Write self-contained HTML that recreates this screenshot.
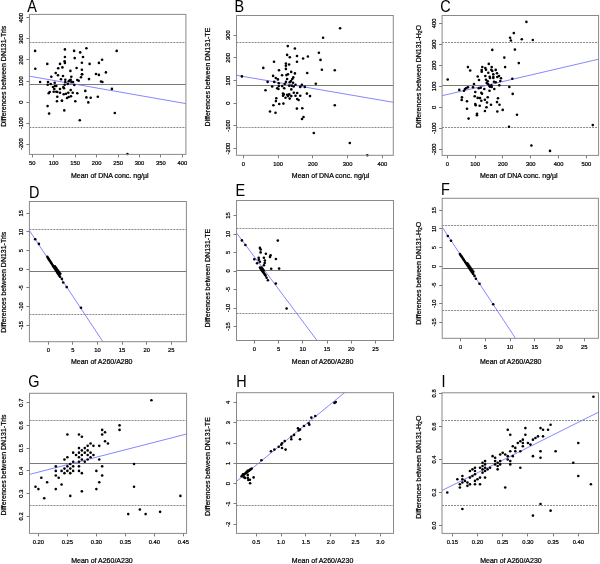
<!DOCTYPE html>
<html><head><meta charset="utf-8"><style>
html,body{margin:0;padding:0;background:#fff;}
svg{display:block;font-family:"Liberation Sans", sans-serif;will-change:transform;}
text{stroke:#000;stroke-width:0.22px;}
</style></head><body>
<svg width="600" height="564" viewBox="0 0 600 564">
<rect width="600" height="564" fill="#fff"/>
<text transform="translate(27.2,11.8) scale(0.9,1)" font-size="16" fill="#000" style="stroke-width:0.05px">A</text>
<line x1="29.4" y1="42.5" x2="185.9" y2="42.5" stroke="#8a8a8a" stroke-width="1" stroke-dasharray="2,1"/>
<line x1="29.4" y1="127.5" x2="185.9" y2="127.5" stroke="#8a8a8a" stroke-width="1" stroke-dasharray="2,1"/>
<line x1="29.4" y1="84.5" x2="185.9" y2="84.5" stroke="#787878" stroke-width="1"/>
<line x1="29.4" y1="76.2" x2="185.9" y2="103.6" stroke="#7878ff" stroke-width="0.9"/>
<circle cx="35.1" cy="50.9" r="1.3"/>
<circle cx="35.3" cy="68.7" r="1.3"/>
<circle cx="64.9" cy="49.4" r="1.3"/>
<circle cx="74.1" cy="50.9" r="1.3"/>
<circle cx="86.4" cy="48.3" r="1.3"/>
<circle cx="80.2" cy="52.4" r="1.3"/>
<circle cx="64.9" cy="57" r="1.3"/>
<circle cx="74.7" cy="58.1" r="1.3"/>
<circle cx="83" cy="57" r="1.3"/>
<circle cx="64.6" cy="61.3" r="1.3"/>
<circle cx="64.9" cy="62.9" r="1.3"/>
<circle cx="47.3" cy="63.9" r="1.3"/>
<circle cx="60" cy="63.9" r="1.3"/>
<circle cx="81.9" cy="62.7" r="1.3"/>
<circle cx="89.6" cy="63.9" r="1.3"/>
<circle cx="58.2" cy="68.2" r="1.3"/>
<circle cx="62.4" cy="67.4" r="1.3"/>
<circle cx="76.6" cy="68" r="1.3"/>
<circle cx="81.9" cy="69.8" r="1.3"/>
<circle cx="70.4" cy="70.9" r="1.3"/>
<circle cx="82.1" cy="74.3" r="1.3"/>
<circle cx="89" cy="79.1" r="1.3"/>
<circle cx="40.1" cy="82" r="1.3"/>
<circle cx="85.3" cy="90.9" r="1.3"/>
<circle cx="86.4" cy="97.4" r="1.3"/>
<circle cx="55.7" cy="73" r="1.3"/>
<circle cx="58" cy="75.3" r="1.3"/>
<circle cx="63" cy="76" r="1.3"/>
<circle cx="51.3" cy="76.8" r="1.3"/>
<circle cx="71.3" cy="76.8" r="1.3"/>
<circle cx="82" cy="74.3" r="1.3"/>
<circle cx="81" cy="77.3" r="1.3"/>
<circle cx="61" cy="79.2" r="1.3"/>
<circle cx="65.3" cy="79.7" r="1.3"/>
<circle cx="69.7" cy="80.3" r="1.3"/>
<circle cx="70.7" cy="79.7" r="1.3"/>
<circle cx="77.3" cy="80" r="1.3"/>
<circle cx="78.7" cy="80.7" r="1.3"/>
<circle cx="48" cy="82" r="1.3"/>
<circle cx="54.7" cy="82.7" r="1.3"/>
<circle cx="65.3" cy="82" r="1.3"/>
<circle cx="68.7" cy="81.3" r="1.3"/>
<circle cx="71.3" cy="81.7" r="1.3"/>
<circle cx="73" cy="82" r="1.3"/>
<circle cx="47.7" cy="84.7" r="1.3"/>
<circle cx="50.7" cy="84" r="1.3"/>
<circle cx="67.7" cy="84" r="1.3"/>
<circle cx="74.3" cy="85" r="1.3"/>
<circle cx="64.7" cy="84.7" r="1.3"/>
<circle cx="53" cy="87" r="1.3"/>
<circle cx="55" cy="86" r="1.3"/>
<circle cx="56.3" cy="86" r="1.3"/>
<circle cx="63.3" cy="87" r="1.3"/>
<circle cx="64" cy="88.3" r="1.3"/>
<circle cx="60" cy="89" r="1.3"/>
<circle cx="70.7" cy="90" r="1.3"/>
<circle cx="54.3" cy="89" r="1.3"/>
<circle cx="53.7" cy="91.7" r="1.3"/>
<circle cx="49.7" cy="92" r="1.3"/>
<circle cx="48.7" cy="93.3" r="1.3"/>
<circle cx="56.3" cy="91.7" r="1.3"/>
<circle cx="57.3" cy="92" r="1.3"/>
<circle cx="60" cy="92.7" r="1.3"/>
<circle cx="63.7" cy="94.3" r="1.3"/>
<circle cx="66" cy="93.7" r="1.3"/>
<circle cx="68.3" cy="92.7" r="1.3"/>
<circle cx="72.7" cy="92.7" r="1.3"/>
<circle cx="77.3" cy="93.3" r="1.3"/>
<circle cx="57.3" cy="96.7" r="1.3"/>
<circle cx="67" cy="98" r="1.3"/>
<circle cx="68.7" cy="97" r="1.3"/>
<circle cx="71" cy="96.3" r="1.3"/>
<circle cx="57" cy="101.3" r="1.3"/>
<circle cx="62" cy="100.7" r="1.3"/>
<circle cx="75.3" cy="101.3" r="1.3"/>
<circle cx="116.7" cy="50.9" r="1.3"/>
<circle cx="102.1" cy="59.7" r="1.3"/>
<circle cx="98.9" cy="62.9" r="1.3"/>
<circle cx="105.9" cy="72.4" r="1.3"/>
<circle cx="96" cy="74" r="1.3"/>
<circle cx="98.9" cy="74.9" r="1.3"/>
<circle cx="101" cy="81.5" r="1.3"/>
<circle cx="102.4" cy="82" r="1.3"/>
<circle cx="111.9" cy="88.9" r="1.3"/>
<circle cx="90.7" cy="97.8" r="1.3"/>
<circle cx="97.8" cy="96.7" r="1.3"/>
<circle cx="61.9" cy="100.8" r="1.3"/>
<circle cx="88.3" cy="102.4" r="1.3"/>
<circle cx="47.6" cy="106.1" r="1.3"/>
<circle cx="49.1" cy="113.6" r="1.3"/>
<circle cx="64.3" cy="110.4" r="1.3"/>
<circle cx="79.8" cy="120.3" r="1.3"/>
<circle cx="114.8" cy="113" r="1.3"/>
<circle cx="127.4" cy="154" r="1.3"/>
<rect x="29.4" y="14.4" width="156.5" height="140.0" fill="none" stroke="#8a8a8a" stroke-width="1"/>
<line x1="32.50" y1="154.4" x2="32.50" y2="157.4" stroke="#7c7c7c" stroke-width="1"/>
<text x="32.20" y="165.0" font-size="5.8" text-anchor="middle" fill="#000">50</text>
<line x1="53.50" y1="154.4" x2="53.50" y2="157.4" stroke="#7c7c7c" stroke-width="1"/>
<text x="53.66" y="165.0" font-size="5.8" text-anchor="middle" fill="#000">100</text>
<line x1="75.50" y1="154.4" x2="75.50" y2="157.4" stroke="#7c7c7c" stroke-width="1"/>
<text x="75.11" y="165.0" font-size="5.8" text-anchor="middle" fill="#000">150</text>
<line x1="96.50" y1="154.4" x2="96.50" y2="157.4" stroke="#7c7c7c" stroke-width="1"/>
<text x="96.57" y="165.0" font-size="5.8" text-anchor="middle" fill="#000">200</text>
<line x1="118.50" y1="154.4" x2="118.50" y2="157.4" stroke="#7c7c7c" stroke-width="1"/>
<text x="118.03" y="165.0" font-size="5.8" text-anchor="middle" fill="#000">250</text>
<line x1="139.50" y1="154.4" x2="139.50" y2="157.4" stroke="#7c7c7c" stroke-width="1"/>
<text x="139.49" y="165.0" font-size="5.8" text-anchor="middle" fill="#000">300</text>
<line x1="160.50" y1="154.4" x2="160.50" y2="157.4" stroke="#7c7c7c" stroke-width="1"/>
<text x="160.94" y="165.0" font-size="5.8" text-anchor="middle" fill="#000">350</text>
<line x1="182.50" y1="154.4" x2="182.50" y2="157.4" stroke="#7c7c7c" stroke-width="1"/>
<text x="182.40" y="165.0" font-size="5.8" text-anchor="middle" fill="#000">400</text>
<line x1="26.4" y1="144.50" x2="29.4" y2="144.50" stroke="#7c7c7c" stroke-width="1"/>
<text transform="translate(22.90,144.20) rotate(-90)" font-size="5.8" text-anchor="middle" fill="#000">-200</text>
<line x1="26.4" y1="123.50" x2="29.4" y2="123.50" stroke="#7c7c7c" stroke-width="1"/>
<text transform="translate(22.90,123.15) rotate(-90)" font-size="5.8" text-anchor="middle" fill="#000">-100</text>
<line x1="26.4" y1="102.50" x2="29.4" y2="102.50" stroke="#7c7c7c" stroke-width="1"/>
<text transform="translate(22.90,102.10) rotate(-90)" font-size="5.8" text-anchor="middle" fill="#000">0</text>
<line x1="26.4" y1="81.50" x2="29.4" y2="81.50" stroke="#7c7c7c" stroke-width="1"/>
<text transform="translate(22.90,81.05) rotate(-90)" font-size="5.8" text-anchor="middle" fill="#000">100</text>
<line x1="26.4" y1="59.50" x2="29.4" y2="59.50" stroke="#7c7c7c" stroke-width="1"/>
<text transform="translate(22.90,60.00) rotate(-90)" font-size="5.8" text-anchor="middle" fill="#000">200</text>
<line x1="26.4" y1="38.50" x2="29.4" y2="38.50" stroke="#7c7c7c" stroke-width="1"/>
<text transform="translate(22.90,38.95) rotate(-90)" font-size="5.8" text-anchor="middle" fill="#000">300</text>
<line x1="26.4" y1="17.50" x2="29.4" y2="17.50" stroke="#7c7c7c" stroke-width="1"/>
<text transform="translate(22.90,17.90) rotate(-90)" font-size="5.8" text-anchor="middle" fill="#000">400</text>
<text x="71" y="177.7" font-size="7" fill="#000">Mean of DNA conc. ng/µl</text>
<text transform="translate(5.70,126.80) rotate(-90)" font-size="7" fill="#000">Differences between DN131-Tris</text>
<text transform="translate(234.6,11.9) scale(0.9,1)" font-size="16" fill="#000" style="stroke-width:0.05px">B</text>
<line x1="236.5" y1="42.5" x2="393.3" y2="42.5" stroke="#8a8a8a" stroke-width="1" stroke-dasharray="2,1"/>
<line x1="236.5" y1="127.5" x2="393.3" y2="127.5" stroke="#8a8a8a" stroke-width="1" stroke-dasharray="2,1"/>
<line x1="236.5" y1="85.5" x2="393.3" y2="85.5" stroke="#787878" stroke-width="1"/>
<line x1="236.5" y1="75.3" x2="393.3" y2="102.3" stroke="#7878ff" stroke-width="0.9"/>
<circle cx="287.8" cy="46.1" r="1.3"/>
<circle cx="294.9" cy="48.5" r="1.3"/>
<circle cx="287.1" cy="54.9" r="1.3"/>
<circle cx="289.8" cy="57.2" r="1.3"/>
<circle cx="297" cy="56" r="1.3"/>
<circle cx="297" cy="61.7" r="1.3"/>
<circle cx="274" cy="61.7" r="1.3"/>
<circle cx="285.9" cy="63.6" r="1.3"/>
<circle cx="285.9" cy="65.7" r="1.3"/>
<circle cx="289.1" cy="64.5" r="1.3"/>
<circle cx="263.3" cy="67.9" r="1.3"/>
<circle cx="279" cy="70.2" r="1.3"/>
<circle cx="285.9" cy="68.9" r="1.3"/>
<circle cx="291.2" cy="71.9" r="1.3"/>
<circle cx="294.9" cy="73.4" r="1.3"/>
<circle cx="241.9" cy="76.4" r="1.3"/>
<circle cx="273.1" cy="75.9" r="1.3"/>
<circle cx="282.1" cy="75.3" r="1.3"/>
<circle cx="286.4" cy="75.1" r="1.3"/>
<circle cx="288" cy="74.3" r="1.3"/>
<circle cx="275.8" cy="78" r="1.3"/>
<circle cx="277.9" cy="79.4" r="1.3"/>
<circle cx="287.1" cy="79" r="1.3"/>
<circle cx="293.3" cy="77.4" r="1.3"/>
<circle cx="292.3" cy="79" r="1.3"/>
<circle cx="340.1" cy="28.3" r="1.3"/>
<circle cx="323.1" cy="37.8" r="1.3"/>
<circle cx="318.9" cy="52.8" r="1.3"/>
<circle cx="307.9" cy="56.5" r="1.3"/>
<circle cx="303.1" cy="58.5" r="1.3"/>
<circle cx="320.5" cy="59.9" r="1.3"/>
<circle cx="321.9" cy="69.7" r="1.3"/>
<circle cx="334.8" cy="70.2" r="1.3"/>
<circle cx="307.2" cy="73" r="1.3"/>
<circle cx="267.6" cy="81.9" r="1.3"/>
<circle cx="274.25" cy="81.9" r="1.3"/>
<circle cx="278.8" cy="83.2" r="1.3"/>
<circle cx="285.9" cy="81.9" r="1.3"/>
<circle cx="289.7" cy="82.3" r="1.3"/>
<circle cx="290.9" cy="81.1" r="1.3"/>
<circle cx="293" cy="82.75" r="1.3"/>
<circle cx="284.7" cy="84" r="1.3"/>
<circle cx="295.5" cy="84.8" r="1.3"/>
<circle cx="272.2" cy="86.5" r="1.3"/>
<circle cx="278.8" cy="86.1" r="1.3"/>
<circle cx="282.2" cy="86.1" r="1.3"/>
<circle cx="289.25" cy="85.7" r="1.3"/>
<circle cx="291.75" cy="85.7" r="1.3"/>
<circle cx="293.7" cy="86.5" r="1.3"/>
<circle cx="277.2" cy="88.2" r="1.3"/>
<circle cx="278.4" cy="89" r="1.3"/>
<circle cx="284.25" cy="88.2" r="1.3"/>
<circle cx="291.3" cy="89.4" r="1.3"/>
<circle cx="265.5" cy="90.25" r="1.3"/>
<circle cx="283" cy="93.6" r="1.3"/>
<circle cx="283.8" cy="94.4" r="1.3"/>
<circle cx="287.2" cy="94.8" r="1.3"/>
<circle cx="289.25" cy="94.4" r="1.3"/>
<circle cx="293.8" cy="92.75" r="1.3"/>
<circle cx="297.2" cy="93" r="1.3"/>
<circle cx="283" cy="95.7" r="1.3"/>
<circle cx="288" cy="96.1" r="1.3"/>
<circle cx="291.3" cy="96.1" r="1.3"/>
<circle cx="295.5" cy="95.7" r="1.3"/>
<circle cx="285.5" cy="97.75" r="1.3"/>
<circle cx="289.7" cy="98.6" r="1.3"/>
<circle cx="297.2" cy="99" r="1.3"/>
<circle cx="276.3" cy="98.2" r="1.3"/>
<circle cx="275.9" cy="101.1" r="1.3"/>
<circle cx="273.4" cy="105.25" r="1.3"/>
<circle cx="279.25" cy="104" r="1.3"/>
<circle cx="283.4" cy="103.6" r="1.3"/>
<circle cx="301.9" cy="84.8" r="1.3"/>
<circle cx="300.25" cy="86.9" r="1.3"/>
<circle cx="304.8" cy="86.9" r="1.3"/>
<circle cx="315.8" cy="83.8" r="1.3"/>
<circle cx="300.25" cy="95.8" r="1.3"/>
<circle cx="306.9" cy="93.6" r="1.3"/>
<circle cx="310" cy="96.1" r="1.3"/>
<circle cx="298.6" cy="100" r="1.3"/>
<circle cx="334.8" cy="105.25" r="1.3"/>
<circle cx="302.3" cy="108.2" r="1.3"/>
<circle cx="296.9" cy="108.6" r="1.3"/>
<circle cx="270" cy="111.5" r="1.3"/>
<circle cx="275.5" cy="112.7" r="1.3"/>
<circle cx="302" cy="119" r="1.3"/>
<circle cx="303.5" cy="117" r="1.3"/>
<circle cx="313.8" cy="133" r="1.3"/>
<circle cx="349.8" cy="143" r="1.3"/>
<circle cx="367.3" cy="155.2" r="1.3"/>
<rect x="236.5" y="15.5" width="156.8" height="139.8" fill="none" stroke="#8a8a8a" stroke-width="1"/>
<line x1="243.50" y1="155.3" x2="243.50" y2="158.3" stroke="#7c7c7c" stroke-width="1"/>
<text x="243.40" y="165.9" font-size="5.8" text-anchor="middle" fill="#000">0</text>
<line x1="278.50" y1="155.3" x2="278.50" y2="158.3" stroke="#7c7c7c" stroke-width="1"/>
<text x="278.15" y="165.9" font-size="5.8" text-anchor="middle" fill="#000">100</text>
<line x1="312.50" y1="155.3" x2="312.50" y2="158.3" stroke="#7c7c7c" stroke-width="1"/>
<text x="312.90" y="165.9" font-size="5.8" text-anchor="middle" fill="#000">200</text>
<line x1="347.50" y1="155.3" x2="347.50" y2="158.3" stroke="#7c7c7c" stroke-width="1"/>
<text x="347.65" y="165.9" font-size="5.8" text-anchor="middle" fill="#000">300</text>
<line x1="382.50" y1="155.3" x2="382.50" y2="158.3" stroke="#7c7c7c" stroke-width="1"/>
<text x="382.40" y="165.9" font-size="5.8" text-anchor="middle" fill="#000">400</text>
<line x1="233.5" y1="148.50" x2="236.5" y2="148.50" stroke="#7c7c7c" stroke-width="1"/>
<text transform="translate(230.00,148.60) rotate(-90)" font-size="5.8" text-anchor="middle" fill="#000">-200</text>
<line x1="233.5" y1="125.50" x2="236.5" y2="125.50" stroke="#7c7c7c" stroke-width="1"/>
<text transform="translate(230.00,125.92) rotate(-90)" font-size="5.8" text-anchor="middle" fill="#000">-100</text>
<line x1="233.5" y1="103.50" x2="236.5" y2="103.50" stroke="#7c7c7c" stroke-width="1"/>
<text transform="translate(230.00,103.24) rotate(-90)" font-size="5.8" text-anchor="middle" fill="#000">0</text>
<line x1="233.5" y1="80.50" x2="236.5" y2="80.50" stroke="#7c7c7c" stroke-width="1"/>
<text transform="translate(230.00,80.56) rotate(-90)" font-size="5.8" text-anchor="middle" fill="#000">100</text>
<line x1="233.5" y1="57.50" x2="236.5" y2="57.50" stroke="#7c7c7c" stroke-width="1"/>
<text transform="translate(230.00,57.88) rotate(-90)" font-size="5.8" text-anchor="middle" fill="#000">200</text>
<line x1="233.5" y1="35.50" x2="236.5" y2="35.50" stroke="#7c7c7c" stroke-width="1"/>
<text transform="translate(230.00,35.20) rotate(-90)" font-size="5.8" text-anchor="middle" fill="#000">300</text>
<text x="291.8" y="177.7" font-size="7" fill="#000">Mean of DNA conc. ng/µl</text>
<text transform="translate(210.00,126.40) rotate(-90)" font-size="7" fill="#000">Differences between DN131-TE</text>
<text transform="translate(440.2,12.0) scale(0.9,1)" font-size="16" fill="#000" style="stroke-width:0.05px">C</text>
<line x1="442.1" y1="42.5" x2="598.6" y2="42.5" stroke="#8a8a8a" stroke-width="1" stroke-dasharray="2,1"/>
<line x1="442.1" y1="127.5" x2="598.6" y2="127.5" stroke="#8a8a8a" stroke-width="1" stroke-dasharray="2,1"/>
<line x1="442.1" y1="85.5" x2="598.6" y2="85.5" stroke="#787878" stroke-width="1"/>
<line x1="442.1" y1="95.7" x2="598.6" y2="59.2" stroke="#7878ff" stroke-width="0.9"/>
<circle cx="492.3" cy="49.9" r="1.3"/>
<circle cx="467.9" cy="67.1" r="1.3"/>
<circle cx="470.2" cy="70.5" r="1.3"/>
<circle cx="488.8" cy="63.9" r="1.3"/>
<circle cx="526.4" cy="21.9" r="1.3"/>
<circle cx="513.8" cy="33.1" r="1.3"/>
<circle cx="510.1" cy="37.7" r="1.3"/>
<circle cx="510.9" cy="40.5" r="1.3"/>
<circle cx="521.8" cy="39.3" r="1.3"/>
<circle cx="532.8" cy="40" r="1.3"/>
<circle cx="514.9" cy="49.6" r="1.3"/>
<circle cx="504.3" cy="57.6" r="1.3"/>
<circle cx="518.8" cy="63.1" r="1.3"/>
<circle cx="505.1" cy="67.1" r="1.3"/>
<circle cx="482.3" cy="67" r="1.3"/>
<circle cx="481.7" cy="70" r="1.3"/>
<circle cx="481.7" cy="71.7" r="1.3"/>
<circle cx="485.3" cy="68" r="1.3"/>
<circle cx="486" cy="69.7" r="1.3"/>
<circle cx="491.7" cy="67" r="1.3"/>
<circle cx="491.3" cy="69.7" r="1.3"/>
<circle cx="492.3" cy="71" r="1.3"/>
<circle cx="495.7" cy="69.9" r="1.3"/>
<circle cx="488.3" cy="72.7" r="1.3"/>
<circle cx="497" cy="73.3" r="1.3"/>
<circle cx="493.3" cy="74.3" r="1.3"/>
<circle cx="485.3" cy="76" r="1.3"/>
<circle cx="489.7" cy="76.7" r="1.3"/>
<circle cx="490" cy="78" r="1.3"/>
<circle cx="493.3" cy="76.7" r="1.3"/>
<circle cx="493.3" cy="78" r="1.3"/>
<circle cx="499" cy="76" r="1.3"/>
<circle cx="497.3" cy="77" r="1.3"/>
<circle cx="501" cy="78.3" r="1.3"/>
<circle cx="477.7" cy="76.5" r="1.3"/>
<circle cx="479" cy="80" r="1.3"/>
<circle cx="486" cy="79.7" r="1.3"/>
<circle cx="487.7" cy="81.3" r="1.3"/>
<circle cx="494" cy="81.7" r="1.3"/>
<circle cx="495.7" cy="82.3" r="1.3"/>
<circle cx="500.3" cy="81" r="1.3"/>
<circle cx="486.7" cy="83" r="1.3"/>
<circle cx="488" cy="84" r="1.3"/>
<circle cx="474" cy="84" r="1.3"/>
<circle cx="489.3" cy="85.7" r="1.3"/>
<circle cx="491.3" cy="85.3" r="1.3"/>
<circle cx="499.3" cy="85.3" r="1.3"/>
<circle cx="490" cy="86.7" r="1.3"/>
<circle cx="491.7" cy="87" r="1.3"/>
<circle cx="473" cy="87.3" r="1.3"/>
<circle cx="478.7" cy="88.3" r="1.3"/>
<circle cx="480.7" cy="87.7" r="1.3"/>
<circle cx="484.3" cy="89" r="1.3"/>
<circle cx="494.3" cy="89" r="1.3"/>
<circle cx="509.3" cy="87" r="1.3"/>
<circle cx="447.7" cy="79.5" r="1.3"/>
<circle cx="459.3" cy="89.9" r="1.3"/>
<circle cx="464" cy="90.7" r="1.3"/>
<circle cx="465" cy="89" r="1.3"/>
<circle cx="466.3" cy="88" r="1.3"/>
<circle cx="468" cy="87.2" r="1.3"/>
<circle cx="475.3" cy="92" r="1.3"/>
<circle cx="481.3" cy="92.7" r="1.3"/>
<circle cx="462" cy="97.3" r="1.3"/>
<circle cx="461.7" cy="99.9" r="1.3"/>
<circle cx="474.7" cy="96.3" r="1.3"/>
<circle cx="477.7" cy="97.9" r="1.3"/>
<circle cx="480" cy="98.1" r="1.3"/>
<circle cx="467" cy="101.2" r="1.3"/>
<circle cx="481.3" cy="100.7" r="1.3"/>
<circle cx="475.3" cy="104" r="1.3"/>
<circle cx="475.7" cy="105.2" r="1.3"/>
<circle cx="479.7" cy="105.7" r="1.3"/>
<circle cx="467" cy="108.7" r="1.3"/>
<circle cx="489.5" cy="90.8" r="1.3"/>
<circle cx="482" cy="93.7" r="1.3"/>
<circle cx="512.7" cy="93.9" r="1.3"/>
<circle cx="487.7" cy="97.3" r="1.3"/>
<circle cx="484.9" cy="99.7" r="1.3"/>
<circle cx="498" cy="98.3" r="1.3"/>
<circle cx="487" cy="102.5" r="1.3"/>
<circle cx="491" cy="104.8" r="1.3"/>
<circle cx="497" cy="102.1" r="1.3"/>
<circle cx="499.5" cy="104.8" r="1.3"/>
<circle cx="486.5" cy="107.3" r="1.3"/>
<circle cx="484.9" cy="111" r="1.3"/>
<circle cx="502.7" cy="109.9" r="1.3"/>
<circle cx="497.3" cy="111.5" r="1.3"/>
<circle cx="477" cy="113.7" r="1.3"/>
<circle cx="476.9" cy="115.2" r="1.3"/>
<circle cx="468.6" cy="118.6" r="1.3"/>
<circle cx="512.3" cy="78.7" r="1.3"/>
<circle cx="517" cy="114.7" r="1.3"/>
<circle cx="509" cy="126.7" r="1.3"/>
<circle cx="531.4" cy="145.5" r="1.3"/>
<circle cx="550" cy="150.9" r="1.3"/>
<circle cx="592.8" cy="125.1" r="1.3"/>
<rect x="442.1" y="15.5" width="156.5" height="139.9" fill="none" stroke="#8a8a8a" stroke-width="1"/>
<line x1="447.50" y1="155.4" x2="447.50" y2="158.4" stroke="#7c7c7c" stroke-width="1"/>
<text x="447.30" y="166.0" font-size="5.8" text-anchor="middle" fill="#000">0</text>
<line x1="475.50" y1="155.4" x2="475.50" y2="158.4" stroke="#7c7c7c" stroke-width="1"/>
<text x="475.12" y="166.0" font-size="5.8" text-anchor="middle" fill="#000">100</text>
<line x1="502.50" y1="155.4" x2="502.50" y2="158.4" stroke="#7c7c7c" stroke-width="1"/>
<text x="502.94" y="166.0" font-size="5.8" text-anchor="middle" fill="#000">200</text>
<line x1="530.50" y1="155.4" x2="530.50" y2="158.4" stroke="#7c7c7c" stroke-width="1"/>
<text x="530.76" y="166.0" font-size="5.8" text-anchor="middle" fill="#000">300</text>
<line x1="558.50" y1="155.4" x2="558.50" y2="158.4" stroke="#7c7c7c" stroke-width="1"/>
<text x="558.58" y="166.0" font-size="5.8" text-anchor="middle" fill="#000">400</text>
<line x1="586.50" y1="155.4" x2="586.50" y2="158.4" stroke="#7c7c7c" stroke-width="1"/>
<text x="586.40" y="166.0" font-size="5.8" text-anchor="middle" fill="#000">500</text>
<line x1="439.1" y1="149.50" x2="442.1" y2="149.50" stroke="#7c7c7c" stroke-width="1"/>
<text transform="translate(435.60,149.30) rotate(-90)" font-size="5.8" text-anchor="middle" fill="#000">-200</text>
<line x1="439.1" y1="128.50" x2="442.1" y2="128.50" stroke="#7c7c7c" stroke-width="1"/>
<text transform="translate(435.60,128.32) rotate(-90)" font-size="5.8" text-anchor="middle" fill="#000">-100</text>
<line x1="439.1" y1="107.50" x2="442.1" y2="107.50" stroke="#7c7c7c" stroke-width="1"/>
<text transform="translate(435.60,107.33) rotate(-90)" font-size="5.8" text-anchor="middle" fill="#000">0</text>
<line x1="439.1" y1="86.50" x2="442.1" y2="86.50" stroke="#7c7c7c" stroke-width="1"/>
<text transform="translate(435.60,86.35) rotate(-90)" font-size="5.8" text-anchor="middle" fill="#000">100</text>
<line x1="439.1" y1="65.50" x2="442.1" y2="65.50" stroke="#7c7c7c" stroke-width="1"/>
<text transform="translate(435.60,65.37) rotate(-90)" font-size="5.8" text-anchor="middle" fill="#000">200</text>
<line x1="439.1" y1="44.50" x2="442.1" y2="44.50" stroke="#7c7c7c" stroke-width="1"/>
<text transform="translate(435.60,44.38) rotate(-90)" font-size="5.8" text-anchor="middle" fill="#000">300</text>
<line x1="439.1" y1="23.50" x2="442.1" y2="23.50" stroke="#7c7c7c" stroke-width="1"/>
<text transform="translate(435.60,23.40) rotate(-90)" font-size="5.8" text-anchor="middle" fill="#000">400</text>
<text x="480" y="177.7" font-size="7" fill="#000">Mean of DNA conc. ng/µl</text>
<text transform="translate(420.90,128.00) rotate(-90)" font-size="7" fill="#000">Differences between DN131-H<tspan font-size="5" dy="1.2">2</tspan><tspan dy="-1.2">O</tspan></text>
<text transform="translate(29.0,197.70000000000002) scale(0.9,1)" font-size="16" fill="#000" style="stroke-width:0.05px">D</text>
<line x1="29.4" y1="229.5" x2="186.4" y2="229.5" stroke="#8a8a8a" stroke-width="1" stroke-dasharray="2,1"/>
<line x1="29.4" y1="314.5" x2="186.4" y2="314.5" stroke="#8a8a8a" stroke-width="1" stroke-dasharray="2,1"/>
<line x1="29.4" y1="271.5" x2="186.4" y2="271.5" stroke="#787878" stroke-width="1"/>
<line x1="29.4" y1="230.5" x2="102.9" y2="341.7" stroke="#7878ff" stroke-width="0.9"/>
<circle cx="35.2" cy="239.2" r="1.3"/>
<circle cx="38.9" cy="243.9" r="1.3"/>
<circle cx="47.3" cy="256.8" r="1.3"/>
<circle cx="48.04705882352941" cy="257.97058823529414" r="1.3"/>
<circle cx="48.79411764705882" cy="259.1411764705882" r="1.3"/>
<circle cx="49.54117647058823" cy="260.31176470588235" r="1.3"/>
<circle cx="50.28823529411765" cy="261.4823529411765" r="1.3"/>
<circle cx="51.035294117647055" cy="262.6529411764706" r="1.3"/>
<circle cx="51.78235294117647" cy="263.8235294117647" r="1.3"/>
<circle cx="52.529411764705884" cy="264.99411764705883" r="1.3"/>
<circle cx="53.27647058823529" cy="266.16470588235296" r="1.3"/>
<circle cx="54.023529411764706" cy="267.33529411764704" r="1.3"/>
<circle cx="54.77058823529411" cy="268.50588235294117" r="1.3"/>
<circle cx="55.51764705882353" cy="269.6764705882353" r="1.3"/>
<circle cx="56.26470588235294" cy="270.8470588235294" r="1.3"/>
<circle cx="57.01176470588235" cy="272.0176470588235" r="1.3"/>
<circle cx="57.758823529411764" cy="273.18823529411765" r="1.3"/>
<circle cx="58.50588235294118" cy="274.3588235294118" r="1.3"/>
<circle cx="59.252941176470586" cy="275.52941176470586" r="1.3"/>
<circle cx="60.0" cy="276.7" r="1.3"/>
<circle cx="54.8" cy="266.2" r="1.3"/>
<circle cx="55.71666666666666" cy="267.46666666666664" r="1.3"/>
<circle cx="56.63333333333333" cy="268.73333333333335" r="1.3"/>
<circle cx="57.55" cy="270.0" r="1.3"/>
<circle cx="58.46666666666666" cy="271.26666666666665" r="1.3"/>
<circle cx="59.38333333333333" cy="272.53333333333336" r="1.3"/>
<circle cx="60.3" cy="273.8" r="1.3"/>
<circle cx="61.9" cy="278.9" r="1.3"/>
<circle cx="63.2" cy="282.5" r="1.3"/>
<circle cx="66.7" cy="287.1" r="1.3"/>
<circle cx="81" cy="307.7" r="1.3"/>
<rect x="29.4" y="201.5" width="157.0" height="140.2" fill="none" stroke="#8a8a8a" stroke-width="1"/>
<line x1="48.50" y1="341.7" x2="48.50" y2="344.7" stroke="#7c7c7c" stroke-width="1"/>
<text x="48.30" y="352.3" font-size="5.8" text-anchor="middle" fill="#000">0</text>
<line x1="72.50" y1="341.7" x2="72.50" y2="344.7" stroke="#7c7c7c" stroke-width="1"/>
<text x="72.90" y="352.3" font-size="5.8" text-anchor="middle" fill="#000">5</text>
<line x1="97.50" y1="341.7" x2="97.50" y2="344.7" stroke="#7c7c7c" stroke-width="1"/>
<text x="97.50" y="352.3" font-size="5.8" text-anchor="middle" fill="#000">10</text>
<line x1="122.50" y1="341.7" x2="122.50" y2="344.7" stroke="#7c7c7c" stroke-width="1"/>
<text x="122.10" y="352.3" font-size="5.8" text-anchor="middle" fill="#000">15</text>
<line x1="146.50" y1="341.7" x2="146.50" y2="344.7" stroke="#7c7c7c" stroke-width="1"/>
<text x="146.70" y="352.3" font-size="5.8" text-anchor="middle" fill="#000">20</text>
<line x1="171.50" y1="341.7" x2="171.50" y2="344.7" stroke="#7c7c7c" stroke-width="1"/>
<text x="171.30" y="352.3" font-size="5.8" text-anchor="middle" fill="#000">25</text>
<line x1="26.4" y1="325.50" x2="29.4" y2="325.50" stroke="#7c7c7c" stroke-width="1"/>
<text transform="translate(22.90,325.20) rotate(-90)" font-size="5.8" text-anchor="middle" fill="#000">-15</text>
<line x1="26.4" y1="306.50" x2="29.4" y2="306.50" stroke="#7c7c7c" stroke-width="1"/>
<text transform="translate(22.90,306.55) rotate(-90)" font-size="5.8" text-anchor="middle" fill="#000">-10</text>
<line x1="26.4" y1="287.50" x2="29.4" y2="287.50" stroke="#7c7c7c" stroke-width="1"/>
<text transform="translate(22.90,287.90) rotate(-90)" font-size="5.8" text-anchor="middle" fill="#000">-5</text>
<line x1="26.4" y1="269.50" x2="29.4" y2="269.50" stroke="#7c7c7c" stroke-width="1"/>
<text transform="translate(22.90,269.25) rotate(-90)" font-size="5.8" text-anchor="middle" fill="#000">0</text>
<line x1="26.4" y1="250.50" x2="29.4" y2="250.50" stroke="#7c7c7c" stroke-width="1"/>
<text transform="translate(22.90,250.60) rotate(-90)" font-size="5.8" text-anchor="middle" fill="#000">5</text>
<line x1="26.4" y1="231.50" x2="29.4" y2="231.50" stroke="#7c7c7c" stroke-width="1"/>
<text transform="translate(22.90,231.95) rotate(-90)" font-size="5.8" text-anchor="middle" fill="#000">10</text>
<line x1="26.4" y1="213.50" x2="29.4" y2="213.50" stroke="#7c7c7c" stroke-width="1"/>
<text transform="translate(22.90,213.30) rotate(-90)" font-size="5.8" text-anchor="middle" fill="#000">15</text>
<text x="71" y="363.7" font-size="7" fill="#000">Mean of A260/A280</text>
<text transform="translate(5.90,332.80) rotate(-90)" font-size="7" fill="#000">Differences between DN131-Tris</text>
<text transform="translate(235.6,196.0) scale(0.9,1)" font-size="16" fill="#000" style="stroke-width:0.05px">E</text>
<line x1="236.5" y1="228.5" x2="393.5" y2="228.5" stroke="#8a8a8a" stroke-width="1" stroke-dasharray="2,1"/>
<line x1="236.5" y1="313.5" x2="393.5" y2="313.5" stroke="#8a8a8a" stroke-width="1" stroke-dasharray="2,1"/>
<line x1="236.5" y1="270.5" x2="393.5" y2="270.5" stroke="#787878" stroke-width="1"/>
<line x1="236.5" y1="232.9" x2="317.0" y2="340.5" stroke="#7878ff" stroke-width="0.9"/>
<circle cx="241.9" cy="240.4" r="1.3"/>
<circle cx="245.4" cy="245" r="1.3"/>
<circle cx="277.8" cy="240.6" r="1.3"/>
<circle cx="259.9" cy="247.9" r="1.3"/>
<circle cx="260.7" cy="249.5" r="1.3"/>
<circle cx="260.6" cy="252.4" r="1.3"/>
<circle cx="265.9" cy="253.7" r="1.3"/>
<circle cx="270.6" cy="255.3" r="1.3"/>
<circle cx="270" cy="256.9" r="1.3"/>
<circle cx="254.3" cy="259.3" r="1.3"/>
<circle cx="258.7" cy="257.8" r="1.3"/>
<circle cx="258.8" cy="259.7" r="1.3"/>
<circle cx="263.9" cy="257.8" r="1.3"/>
<circle cx="275.9" cy="259" r="1.3"/>
<circle cx="264.9" cy="260.6" r="1.3"/>
<circle cx="257.1" cy="263.3" r="1.3"/>
<circle cx="259.9" cy="261.8" r="1.3"/>
<circle cx="264.7" cy="263" r="1.3"/>
<circle cx="263.9" cy="265.3" r="1.3"/>
<circle cx="271.2" cy="268.8" r="1.3"/>
<circle cx="279.1" cy="268.6" r="1.3"/>
<circle cx="266.6" cy="277.8" r="1.3"/>
<circle cx="267.9" cy="280.3" r="1.3"/>
<circle cx="275.8" cy="283.6" r="1.3"/>
<circle cx="286.6" cy="308.5" r="1.3"/>
<circle cx="260.0" cy="267.6" r="1.3"/>
<circle cx="260.6222222222222" cy="268.48888888888894" r="1.3"/>
<circle cx="261.24444444444447" cy="269.3777777777778" r="1.3"/>
<circle cx="261.8666666666667" cy="270.2666666666667" r="1.3"/>
<circle cx="262.4888888888889" cy="271.15555555555557" r="1.3"/>
<circle cx="263.11111111111114" cy="272.0444444444445" r="1.3"/>
<circle cx="263.73333333333335" cy="272.93333333333334" r="1.3"/>
<circle cx="264.35555555555555" cy="273.82222222222225" r="1.3"/>
<circle cx="264.9777777777778" cy="274.7111111111111" r="1.3"/>
<circle cx="265.6" cy="275.6" r="1.3"/>
<circle cx="261.7" cy="267.6" r="1.3"/>
<circle cx="262.7" cy="269.1" r="1.3"/>
<circle cx="263.7" cy="270.6" r="1.3"/>
<rect x="236.5" y="200.5" width="157.0" height="140.0" fill="none" stroke="#8a8a8a" stroke-width="1"/>
<line x1="254.50" y1="340.5" x2="254.50" y2="343.5" stroke="#7c7c7c" stroke-width="1"/>
<text x="254.40" y="351.1" font-size="5.8" text-anchor="middle" fill="#000">0</text>
<line x1="278.50" y1="340.5" x2="278.50" y2="343.5" stroke="#7c7c7c" stroke-width="1"/>
<text x="278.60" y="351.1" font-size="5.8" text-anchor="middle" fill="#000">5</text>
<line x1="302.50" y1="340.5" x2="302.50" y2="343.5" stroke="#7c7c7c" stroke-width="1"/>
<text x="302.80" y="351.1" font-size="5.8" text-anchor="middle" fill="#000">10</text>
<line x1="327.50" y1="340.5" x2="327.50" y2="343.5" stroke="#7c7c7c" stroke-width="1"/>
<text x="327.00" y="351.1" font-size="5.8" text-anchor="middle" fill="#000">15</text>
<line x1="351.50" y1="340.5" x2="351.50" y2="343.5" stroke="#7c7c7c" stroke-width="1"/>
<text x="351.20" y="351.1" font-size="5.8" text-anchor="middle" fill="#000">20</text>
<line x1="375.50" y1="340.5" x2="375.50" y2="343.5" stroke="#7c7c7c" stroke-width="1"/>
<text x="375.40" y="351.1" font-size="5.8" text-anchor="middle" fill="#000">25</text>
<line x1="233.5" y1="326.50" x2="236.5" y2="326.50" stroke="#7c7c7c" stroke-width="1"/>
<text transform="translate(230.00,326.50) rotate(-90)" font-size="5.8" text-anchor="middle" fill="#000">-15</text>
<line x1="233.5" y1="308.50" x2="236.5" y2="308.50" stroke="#7c7c7c" stroke-width="1"/>
<text transform="translate(230.00,308.00) rotate(-90)" font-size="5.8" text-anchor="middle" fill="#000">-10</text>
<line x1="233.5" y1="289.50" x2="236.5" y2="289.50" stroke="#7c7c7c" stroke-width="1"/>
<text transform="translate(230.00,289.50) rotate(-90)" font-size="5.8" text-anchor="middle" fill="#000">-5</text>
<line x1="233.5" y1="271.50" x2="236.5" y2="271.50" stroke="#7c7c7c" stroke-width="1"/>
<text transform="translate(230.00,271.00) rotate(-90)" font-size="5.8" text-anchor="middle" fill="#000">0</text>
<line x1="233.5" y1="252.50" x2="236.5" y2="252.50" stroke="#7c7c7c" stroke-width="1"/>
<text transform="translate(230.00,252.50) rotate(-90)" font-size="5.8" text-anchor="middle" fill="#000">5</text>
<line x1="233.5" y1="234.50" x2="236.5" y2="234.50" stroke="#7c7c7c" stroke-width="1"/>
<text transform="translate(230.00,234.00) rotate(-90)" font-size="5.8" text-anchor="middle" fill="#000">10</text>
<line x1="233.5" y1="215.50" x2="236.5" y2="215.50" stroke="#7c7c7c" stroke-width="1"/>
<text transform="translate(230.00,215.50) rotate(-90)" font-size="5.8" text-anchor="middle" fill="#000">15</text>
<text x="291.8" y="363.7" font-size="7" fill="#000">Mean of A260/A280</text>
<text transform="translate(209.90,327.60) rotate(-90)" font-size="7" fill="#000">Differences between DN131-TE</text>
<text transform="translate(441.0,194.70000000000002) scale(0.9,1)" font-size="16" fill="#000" style="stroke-width:0.05px">F</text>
<line x1="442.2" y1="225.5" x2="598.4" y2="225.5" stroke="#8a8a8a" stroke-width="1" stroke-dasharray="2,1"/>
<line x1="442.2" y1="310.5" x2="598.4" y2="310.5" stroke="#8a8a8a" stroke-width="1" stroke-dasharray="2,1"/>
<line x1="442.2" y1="268.5" x2="598.4" y2="268.5" stroke="#787878" stroke-width="1"/>
<line x1="442.2" y1="227.1" x2="515.5" y2="338.3" stroke="#7878ff" stroke-width="0.9"/>
<circle cx="447.8" cy="236" r="1.3"/>
<circle cx="451" cy="240.7" r="1.3"/>
<circle cx="459.9" cy="254.0" r="1.3"/>
<circle cx="460.6823529411765" cy="255.1764705882353" r="1.3"/>
<circle cx="461.4647058823529" cy="256.3529411764706" r="1.3"/>
<circle cx="462.2470588235294" cy="257.52941176470586" r="1.3"/>
<circle cx="463.02941176470586" cy="258.70588235294116" r="1.3"/>
<circle cx="463.81176470588235" cy="259.88235294117646" r="1.3"/>
<circle cx="464.5941176470588" cy="261.05882352941177" r="1.3"/>
<circle cx="465.3764705882353" cy="262.2352941176471" r="1.3"/>
<circle cx="466.15882352941173" cy="263.4117647058824" r="1.3"/>
<circle cx="466.94117647058823" cy="264.5882352941176" r="1.3"/>
<circle cx="467.7235294117647" cy="265.7647058823529" r="1.3"/>
<circle cx="468.50588235294117" cy="266.94117647058823" r="1.3"/>
<circle cx="469.2882352941176" cy="268.11764705882354" r="1.3"/>
<circle cx="470.0705882352941" cy="269.29411764705884" r="1.3"/>
<circle cx="470.85294117647055" cy="270.47058823529414" r="1.3"/>
<circle cx="471.63529411764705" cy="271.6470588235294" r="1.3"/>
<circle cx="472.4176470588235" cy="272.8235294117647" r="1.3"/>
<circle cx="473.2" cy="274.0" r="1.3"/>
<circle cx="467.3" cy="263.2" r="1.3"/>
<circle cx="468.3" cy="264.6333333333333" r="1.3"/>
<circle cx="469.3" cy="266.06666666666666" r="1.3"/>
<circle cx="470.3" cy="267.5" r="1.3"/>
<circle cx="471.3" cy="268.93333333333334" r="1.3"/>
<circle cx="472.3" cy="270.3666666666667" r="1.3"/>
<circle cx="473.3" cy="271.8" r="1.3"/>
<circle cx="474.5" cy="275.9" r="1.3"/>
<circle cx="475.9" cy="278.8" r="1.3"/>
<circle cx="479.5" cy="283.7" r="1.3"/>
<circle cx="493.2" cy="304.2" r="1.3"/>
<rect x="442.2" y="198.3" width="156.2" height="140.0" fill="none" stroke="#8a8a8a" stroke-width="1"/>
<line x1="460.50" y1="338.3" x2="460.50" y2="341.3" stroke="#7c7c7c" stroke-width="1"/>
<text x="460.50" y="348.90000000000003" font-size="5.8" text-anchor="middle" fill="#000">0</text>
<line x1="485.50" y1="338.3" x2="485.50" y2="341.3" stroke="#7c7c7c" stroke-width="1"/>
<text x="485.26" y="348.90000000000003" font-size="5.8" text-anchor="middle" fill="#000">5</text>
<line x1="510.50" y1="338.3" x2="510.50" y2="341.3" stroke="#7c7c7c" stroke-width="1"/>
<text x="510.02" y="348.90000000000003" font-size="5.8" text-anchor="middle" fill="#000">10</text>
<line x1="534.50" y1="338.3" x2="534.50" y2="341.3" stroke="#7c7c7c" stroke-width="1"/>
<text x="534.78" y="348.90000000000003" font-size="5.8" text-anchor="middle" fill="#000">15</text>
<line x1="559.50" y1="338.3" x2="559.50" y2="341.3" stroke="#7c7c7c" stroke-width="1"/>
<text x="559.54" y="348.90000000000003" font-size="5.8" text-anchor="middle" fill="#000">20</text>
<line x1="584.50" y1="338.3" x2="584.50" y2="341.3" stroke="#7c7c7c" stroke-width="1"/>
<text x="584.30" y="348.90000000000003" font-size="5.8" text-anchor="middle" fill="#000">25</text>
<line x1="439.2" y1="322.50" x2="442.2" y2="322.50" stroke="#7c7c7c" stroke-width="1"/>
<text transform="translate(435.70,322.40) rotate(-90)" font-size="5.8" text-anchor="middle" fill="#000">-15</text>
<line x1="439.2" y1="303.50" x2="442.2" y2="303.50" stroke="#7c7c7c" stroke-width="1"/>
<text transform="translate(435.70,303.70) rotate(-90)" font-size="5.8" text-anchor="middle" fill="#000">-10</text>
<line x1="439.2" y1="285.50" x2="442.2" y2="285.50" stroke="#7c7c7c" stroke-width="1"/>
<text transform="translate(435.70,285.00) rotate(-90)" font-size="5.8" text-anchor="middle" fill="#000">-5</text>
<line x1="439.2" y1="266.50" x2="442.2" y2="266.50" stroke="#7c7c7c" stroke-width="1"/>
<text transform="translate(435.70,266.30) rotate(-90)" font-size="5.8" text-anchor="middle" fill="#000">0</text>
<line x1="439.2" y1="247.50" x2="442.2" y2="247.50" stroke="#7c7c7c" stroke-width="1"/>
<text transform="translate(435.70,247.60) rotate(-90)" font-size="5.8" text-anchor="middle" fill="#000">5</text>
<line x1="439.2" y1="228.50" x2="442.2" y2="228.50" stroke="#7c7c7c" stroke-width="1"/>
<text transform="translate(435.70,228.90) rotate(-90)" font-size="5.8" text-anchor="middle" fill="#000">10</text>
<line x1="439.2" y1="210.50" x2="442.2" y2="210.50" stroke="#7c7c7c" stroke-width="1"/>
<text transform="translate(435.70,210.20) rotate(-90)" font-size="5.8" text-anchor="middle" fill="#000">15</text>
<text x="480" y="363.7" font-size="7" fill="#000">Mean of A260/A280</text>
<text transform="translate(420.90,324.80) rotate(-90)" font-size="7" fill="#000">Differences between DN131-H<tspan font-size="5" dy="1.2">2</tspan><tspan dy="-1.2">O</tspan></text>
<text transform="translate(28.2,387.0) scale(0.9,1)" font-size="16" fill="#000" style="stroke-width:0.05px">G</text>
<line x1="29.5" y1="420.5" x2="186.6" y2="420.5" stroke="#8a8a8a" stroke-width="1" stroke-dasharray="2,1"/>
<line x1="29.5" y1="505.5" x2="186.6" y2="505.5" stroke="#8a8a8a" stroke-width="1" stroke-dasharray="2,1"/>
<line x1="29.5" y1="463.5" x2="186.6" y2="463.5" stroke="#787878" stroke-width="1"/>
<line x1="29.5" y1="474.4" x2="186.6" y2="434.0" stroke="#7878ff" stroke-width="0.9"/>
<circle cx="35.5" cy="486.81" r="1.3"/>
<circle cx="38.4" cy="489.09" r="1.3"/>
<circle cx="41.3" cy="477.71" r="1.3"/>
<circle cx="44.2" cy="498.19" r="1.3"/>
<circle cx="47.09" cy="482.26" r="1.3"/>
<circle cx="55.79" cy="489.09" r="1.3"/>
<circle cx="55.79" cy="475.43" r="1.3"/>
<circle cx="55.79" cy="470.88" r="1.3"/>
<circle cx="55.79" cy="466.33" r="1.3"/>
<circle cx="58.69" cy="477.71" r="1.3"/>
<circle cx="61.58" cy="484.54" r="1.3"/>
<circle cx="61.58" cy="470.88" r="1.3"/>
<circle cx="64.48" cy="473.16" r="1.3"/>
<circle cx="64.48" cy="468.6" r="1.3"/>
<circle cx="64.48" cy="459.5" r="1.3"/>
<circle cx="67.38" cy="470.88" r="1.3"/>
<circle cx="67.38" cy="466.33" r="1.3"/>
<circle cx="67.38" cy="457.22" r="1.3"/>
<circle cx="67.38" cy="434.46" r="1.3"/>
<circle cx="70.28" cy="495.92" r="1.3"/>
<circle cx="70.28" cy="473.16" r="1.3"/>
<circle cx="70.28" cy="468.6" r="1.3"/>
<circle cx="70.28" cy="464.05" r="1.3"/>
<circle cx="73.18" cy="470.88" r="1.3"/>
<circle cx="73.18" cy="466.33" r="1.3"/>
<circle cx="73.18" cy="461.78" r="1.3"/>
<circle cx="73.18" cy="452.67" r="1.3"/>
<circle cx="76.07" cy="454.95" r="1.3"/>
<circle cx="78.97" cy="470.88" r="1.3"/>
<circle cx="78.97" cy="466.33" r="1.3"/>
<circle cx="78.97" cy="461.78" r="1.3"/>
<circle cx="78.97" cy="457.22" r="1.3"/>
<circle cx="78.97" cy="452.67" r="1.3"/>
<circle cx="78.97" cy="448.12" r="1.3"/>
<circle cx="78.97" cy="434.46" r="1.3"/>
<circle cx="81.87" cy="491.36" r="1.3"/>
<circle cx="81.87" cy="473.16" r="1.3"/>
<circle cx="81.87" cy="459.5" r="1.3"/>
<circle cx="81.87" cy="454.95" r="1.3"/>
<circle cx="81.87" cy="450.4" r="1.3"/>
<circle cx="81.87" cy="436.74" r="1.3"/>
<circle cx="84.77" cy="461.78" r="1.3"/>
<circle cx="84.77" cy="452.67" r="1.3"/>
<circle cx="84.77" cy="448.12" r="1.3"/>
<circle cx="87.67" cy="459.5" r="1.3"/>
<circle cx="87.67" cy="454.95" r="1.3"/>
<circle cx="87.67" cy="450.4" r="1.3"/>
<circle cx="87.67" cy="445.84" r="1.3"/>
<circle cx="90.56" cy="457.22" r="1.3"/>
<circle cx="90.56" cy="452.67" r="1.3"/>
<circle cx="90.56" cy="443.57" r="1.3"/>
<circle cx="93.46" cy="454.95" r="1.3"/>
<circle cx="93.46" cy="445.84" r="1.3"/>
<circle cx="96.36" cy="489.09" r="1.3"/>
<circle cx="96.36" cy="470.88" r="1.3"/>
<circle cx="99.26" cy="482.26" r="1.3"/>
<circle cx="99.26" cy="459.5" r="1.3"/>
<circle cx="99.26" cy="445.84" r="1.3"/>
<circle cx="102.16" cy="475.43" r="1.3"/>
<circle cx="102.16" cy="466.33" r="1.3"/>
<circle cx="102.16" cy="434.46" r="1.3"/>
<circle cx="102.16" cy="429.91" r="1.3"/>
<circle cx="105.05" cy="441.29" r="1.3"/>
<circle cx="105.05" cy="432.19" r="1.3"/>
<circle cx="107.95" cy="443.57" r="1.3"/>
<circle cx="119.54" cy="429.91" r="1.3"/>
<circle cx="119.54" cy="425.36" r="1.3"/>
<circle cx="128.24" cy="514.12" r="1.3"/>
<circle cx="134.03" cy="486.81" r="1.3"/>
<circle cx="134.03" cy="464.05" r="1.3"/>
<circle cx="139.83" cy="509.57" r="1.3"/>
<circle cx="145.63" cy="514.12" r="1.3"/>
<circle cx="151.42" cy="400.32" r="1.3"/>
<circle cx="160.12" cy="511.85" r="1.3"/>
<circle cx="180.4" cy="495.92" r="1.3"/>
<rect x="29.5" y="393.3" width="157.1" height="140.09999999999997" fill="none" stroke="#8a8a8a" stroke-width="1"/>
<line x1="38.50" y1="533.4" x2="38.50" y2="536.4" stroke="#7c7c7c" stroke-width="1"/>
<text x="38.40" y="544.0" font-size="5.8" text-anchor="middle" fill="#000">0.20</text>
<line x1="67.50" y1="533.4" x2="67.50" y2="536.4" stroke="#7c7c7c" stroke-width="1"/>
<text x="67.38" y="544.0" font-size="5.8" text-anchor="middle" fill="#000">0.25</text>
<line x1="96.50" y1="533.4" x2="96.50" y2="536.4" stroke="#7c7c7c" stroke-width="1"/>
<text x="96.36" y="544.0" font-size="5.8" text-anchor="middle" fill="#000">0.30</text>
<line x1="125.50" y1="533.4" x2="125.50" y2="536.4" stroke="#7c7c7c" stroke-width="1"/>
<text x="125.34" y="544.0" font-size="5.8" text-anchor="middle" fill="#000">0.35</text>
<line x1="154.50" y1="533.4" x2="154.50" y2="536.4" stroke="#7c7c7c" stroke-width="1"/>
<text x="154.32" y="544.0" font-size="5.8" text-anchor="middle" fill="#000">0.40</text>
<line x1="183.50" y1="533.4" x2="183.50" y2="536.4" stroke="#7c7c7c" stroke-width="1"/>
<text x="183.30" y="544.0" font-size="5.8" text-anchor="middle" fill="#000">0.45</text>
<line x1="26.5" y1="516.50" x2="29.5" y2="516.50" stroke="#7c7c7c" stroke-width="1"/>
<text transform="translate(23.00,516.40) rotate(-90)" font-size="5.8" text-anchor="middle" fill="#000">0.2</text>
<line x1="26.5" y1="493.50" x2="29.5" y2="493.50" stroke="#7c7c7c" stroke-width="1"/>
<text transform="translate(23.00,493.64) rotate(-90)" font-size="5.8" text-anchor="middle" fill="#000">0.3</text>
<line x1="26.5" y1="470.50" x2="29.5" y2="470.50" stroke="#7c7c7c" stroke-width="1"/>
<text transform="translate(23.00,470.88) rotate(-90)" font-size="5.8" text-anchor="middle" fill="#000">0.4</text>
<line x1="26.5" y1="448.50" x2="29.5" y2="448.50" stroke="#7c7c7c" stroke-width="1"/>
<text transform="translate(23.00,448.12) rotate(-90)" font-size="5.8" text-anchor="middle" fill="#000">0.5</text>
<line x1="26.5" y1="425.50" x2="29.5" y2="425.50" stroke="#7c7c7c" stroke-width="1"/>
<text transform="translate(23.00,425.36) rotate(-90)" font-size="5.8" text-anchor="middle" fill="#000">0.6</text>
<line x1="26.5" y1="402.50" x2="29.5" y2="402.50" stroke="#7c7c7c" stroke-width="1"/>
<text transform="translate(23.00,402.60) rotate(-90)" font-size="5.8" text-anchor="middle" fill="#000">0.7</text>
<text x="71.2" y="562.5" font-size="7" fill="#000">Mean of A260/A230</text>
<text transform="translate(5.70,515.60) rotate(-90)" font-size="7" fill="#000">Differences between DN131-Tris</text>
<text transform="translate(236.2,386.90000000000003) scale(0.9,1)" font-size="16" fill="#000" style="stroke-width:0.05px">H</text>
<line x1="236.5" y1="420.5" x2="393.5" y2="420.5" stroke="#8a8a8a" stroke-width="1" stroke-dasharray="2,1"/>
<line x1="236.5" y1="505.5" x2="393.5" y2="505.5" stroke="#8a8a8a" stroke-width="1" stroke-dasharray="2,1"/>
<line x1="236.5" y1="463.5" x2="393.5" y2="463.5" stroke="#787878" stroke-width="1"/>
<line x1="236.5" y1="481.3" x2="344.5" y2="392.7" stroke="#7878ff" stroke-width="0.9"/>
<circle cx="261.4" cy="460.2" r="1.3"/>
<circle cx="270.9" cy="451.3" r="1.3"/>
<circle cx="274.4" cy="449.6" r="1.3"/>
<circle cx="278.7" cy="446.7" r="1.3"/>
<circle cx="281.3" cy="444.7" r="1.3"/>
<circle cx="282" cy="443.3" r="1.3"/>
<circle cx="284.7" cy="441.1" r="1.3"/>
<circle cx="282" cy="448" r="1.3"/>
<circle cx="285.6" cy="449.6" r="1.3"/>
<circle cx="291.3" cy="436.7" r="1.3"/>
<circle cx="291.3" cy="439.3" r="1.3"/>
<circle cx="294" cy="434.9" r="1.3"/>
<circle cx="298" cy="428.3" r="1.3"/>
<circle cx="298.7" cy="430.4" r="1.3"/>
<circle cx="300" cy="429.6" r="1.3"/>
<circle cx="300" cy="439.3" r="1.3"/>
<circle cx="304" cy="426" r="1.3"/>
<circle cx="308.7" cy="423.3" r="1.3"/>
<circle cx="309.3" cy="424.7" r="1.3"/>
<circle cx="311.3" cy="417.6" r="1.3"/>
<circle cx="315.3" cy="416" r="1.3"/>
<circle cx="334.5" cy="402.9" r="1.3"/>
<circle cx="335.8" cy="402.0" r="1.3"/>
<circle cx="241.6" cy="476.3" r="1.3"/>
<circle cx="242.5181818181818" cy="475.5909090909091" r="1.3"/>
<circle cx="243.43636363636364" cy="474.8818181818182" r="1.3"/>
<circle cx="244.35454545454544" cy="474.1727272727273" r="1.3"/>
<circle cx="245.27272727272725" cy="473.4636363636364" r="1.3"/>
<circle cx="246.1909090909091" cy="472.75454545454545" r="1.3"/>
<circle cx="247.1090909090909" cy="472.04545454545456" r="1.3"/>
<circle cx="248.02727272727273" cy="471.3363636363636" r="1.3"/>
<circle cx="248.94545454545454" cy="470.6272727272727" r="1.3"/>
<circle cx="249.86363636363635" cy="469.91818181818184" r="1.3"/>
<circle cx="250.78181818181818" cy="469.2090909090909" r="1.3"/>
<circle cx="251.7" cy="468.5" r="1.3"/>
<circle cx="243.9" cy="477.2" r="1.3"/>
<circle cx="245.1" cy="477.9" r="1.3"/>
<circle cx="247.6" cy="470.8" r="1.3"/>
<circle cx="247.8" cy="474.9" r="1.3"/>
<circle cx="247.8" cy="477.9" r="1.3"/>
<circle cx="248.3" cy="480" r="1.3"/>
<circle cx="249.9" cy="479.7" r="1.3"/>
<circle cx="253.6" cy="477.4" r="1.3"/>
<circle cx="250.1" cy="483.2" r="1.3"/>
<circle cx="243" cy="474.4" r="1.3"/>
<circle cx="246.2" cy="472.6" r="1.3"/>
<rect x="236.5" y="392.7" width="157.0" height="140.7" fill="none" stroke="#8a8a8a" stroke-width="1"/>
<line x1="256.50" y1="533.4" x2="256.50" y2="536.4" stroke="#7c7c7c" stroke-width="1"/>
<text x="256.20" y="544.0" font-size="5.8" text-anchor="middle" fill="#000">0.5</text>
<line x1="281.50" y1="533.4" x2="281.50" y2="536.4" stroke="#7c7c7c" stroke-width="1"/>
<text x="281.04" y="544.0" font-size="5.8" text-anchor="middle" fill="#000">1.0</text>
<line x1="305.50" y1="533.4" x2="305.50" y2="536.4" stroke="#7c7c7c" stroke-width="1"/>
<text x="305.88" y="544.0" font-size="5.8" text-anchor="middle" fill="#000">1.5</text>
<line x1="330.50" y1="533.4" x2="330.50" y2="536.4" stroke="#7c7c7c" stroke-width="1"/>
<text x="330.72" y="544.0" font-size="5.8" text-anchor="middle" fill="#000">2.0</text>
<line x1="355.50" y1="533.4" x2="355.50" y2="536.4" stroke="#7c7c7c" stroke-width="1"/>
<text x="355.56" y="544.0" font-size="5.8" text-anchor="middle" fill="#000">2.5</text>
<line x1="380.50" y1="533.4" x2="380.50" y2="536.4" stroke="#7c7c7c" stroke-width="1"/>
<text x="380.40" y="544.0" font-size="5.8" text-anchor="middle" fill="#000">3.0</text>
<line x1="233.5" y1="524.50" x2="236.5" y2="524.50" stroke="#7c7c7c" stroke-width="1"/>
<text transform="translate(230.00,524.30) rotate(-90)" font-size="5.8" text-anchor="middle" fill="#000">-2</text>
<line x1="233.5" y1="503.50" x2="236.5" y2="503.50" stroke="#7c7c7c" stroke-width="1"/>
<text transform="translate(230.00,503.98) rotate(-90)" font-size="5.8" text-anchor="middle" fill="#000">-1</text>
<line x1="233.5" y1="483.50" x2="236.5" y2="483.50" stroke="#7c7c7c" stroke-width="1"/>
<text transform="translate(230.00,483.67) rotate(-90)" font-size="5.8" text-anchor="middle" fill="#000">0</text>
<line x1="233.5" y1="463.50" x2="236.5" y2="463.50" stroke="#7c7c7c" stroke-width="1"/>
<text transform="translate(230.00,463.35) rotate(-90)" font-size="5.8" text-anchor="middle" fill="#000">1</text>
<line x1="233.5" y1="443.50" x2="236.5" y2="443.50" stroke="#7c7c7c" stroke-width="1"/>
<text transform="translate(230.00,443.03) rotate(-90)" font-size="5.8" text-anchor="middle" fill="#000">2</text>
<line x1="233.5" y1="422.50" x2="236.5" y2="422.50" stroke="#7c7c7c" stroke-width="1"/>
<text transform="translate(230.00,422.72) rotate(-90)" font-size="5.8" text-anchor="middle" fill="#000">3</text>
<line x1="233.5" y1="402.50" x2="236.5" y2="402.50" stroke="#7c7c7c" stroke-width="1"/>
<text transform="translate(230.00,402.40) rotate(-90)" font-size="5.8" text-anchor="middle" fill="#000">4</text>
<text x="291.8" y="562.5" font-size="7" fill="#000">Mean of A260/A230</text>
<text transform="translate(209.90,515.90) rotate(-90)" font-size="7" fill="#000">Differences between DN131-TE</text>
<text transform="translate(441.5,386.90000000000003) scale(0.9,1)" font-size="16" fill="#000" style="stroke-width:0.05px">I</text>
<line x1="442.0" y1="420.5" x2="598.5" y2="420.5" stroke="#8a8a8a" stroke-width="1" stroke-dasharray="2,1"/>
<line x1="442.0" y1="505.5" x2="598.5" y2="505.5" stroke="#8a8a8a" stroke-width="1" stroke-dasharray="2,1"/>
<line x1="442.0" y1="463.5" x2="598.5" y2="463.5" stroke="#787878" stroke-width="1"/>
<line x1="442.0" y1="490.5" x2="598.5" y2="412.2" stroke="#7878ff" stroke-width="0.9"/>
<circle cx="447.26" cy="492.48" r="1.3"/>
<circle cx="457.34" cy="479.26" r="1.3"/>
<circle cx="459.86" cy="487.52" r="1.3"/>
<circle cx="459.86" cy="484.22" r="1.3"/>
<circle cx="462.38" cy="508.99" r="1.3"/>
<circle cx="462.38" cy="482.57" r="1.3"/>
<circle cx="462.38" cy="479.26" r="1.3"/>
<circle cx="462.38" cy="475.96" r="1.3"/>
<circle cx="464.9" cy="480.92" r="1.3"/>
<circle cx="467.42" cy="485.87" r="1.3"/>
<circle cx="467.42" cy="482.57" r="1.3"/>
<circle cx="469.94" cy="484.22" r="1.3"/>
<circle cx="469.94" cy="477.61" r="1.3"/>
<circle cx="469.94" cy="471.01" r="1.3"/>
<circle cx="472.46" cy="475.96" r="1.3"/>
<circle cx="472.46" cy="469.36" r="1.3"/>
<circle cx="474.98" cy="484.22" r="1.3"/>
<circle cx="474.98" cy="480.92" r="1.3"/>
<circle cx="474.98" cy="474.31" r="1.3"/>
<circle cx="474.98" cy="471.01" r="1.3"/>
<circle cx="474.98" cy="467.71" r="1.3"/>
<circle cx="477.5" cy="479.26" r="1.3"/>
<circle cx="480.02" cy="484.22" r="1.3"/>
<circle cx="480.02" cy="477.61" r="1.3"/>
<circle cx="480.02" cy="467.71" r="1.3"/>
<circle cx="482.54" cy="472.66" r="1.3"/>
<circle cx="482.54" cy="469.36" r="1.3"/>
<circle cx="482.54" cy="466.06" r="1.3"/>
<circle cx="482.54" cy="462.75" r="1.3"/>
<circle cx="485.06" cy="477.61" r="1.3"/>
<circle cx="485.06" cy="471.01" r="1.3"/>
<circle cx="485.06" cy="467.71" r="1.3"/>
<circle cx="485.06" cy="464.4" r="1.3"/>
<circle cx="485.06" cy="461.1" r="1.3"/>
<circle cx="487.58" cy="469.36" r="1.3"/>
<circle cx="490.1" cy="467.71" r="1.3"/>
<circle cx="492.62" cy="456.15" r="1.3"/>
<circle cx="495.14" cy="464.4" r="1.3"/>
<circle cx="495.14" cy="461.1" r="1.3"/>
<circle cx="495.14" cy="457.8" r="1.3"/>
<circle cx="497.66" cy="469.36" r="1.3"/>
<circle cx="497.66" cy="466.06" r="1.3"/>
<circle cx="497.66" cy="462.75" r="1.3"/>
<circle cx="500.18" cy="464.4" r="1.3"/>
<circle cx="500.18" cy="461.1" r="1.3"/>
<circle cx="500.18" cy="454.5" r="1.3"/>
<circle cx="502.7" cy="452.84" r="1.3"/>
<circle cx="505.22" cy="487.52" r="1.3"/>
<circle cx="505.22" cy="454.5" r="1.3"/>
<circle cx="507.74" cy="459.45" r="1.3"/>
<circle cx="507.74" cy="456.15" r="1.3"/>
<circle cx="507.74" cy="429.73" r="1.3"/>
<circle cx="510.26" cy="464.4" r="1.3"/>
<circle cx="510.26" cy="461.1" r="1.3"/>
<circle cx="510.26" cy="451.19" r="1.3"/>
<circle cx="510.26" cy="434.68" r="1.3"/>
<circle cx="512.78" cy="456.15" r="1.3"/>
<circle cx="512.78" cy="446.24" r="1.3"/>
<circle cx="515.3" cy="451.19" r="1.3"/>
<circle cx="515.3" cy="447.89" r="1.3"/>
<circle cx="517.82" cy="442.94" r="1.3"/>
<circle cx="520.34" cy="467.71" r="1.3"/>
<circle cx="520.34" cy="451.19" r="1.3"/>
<circle cx="520.34" cy="441.29" r="1.3"/>
<circle cx="522.86" cy="446.24" r="1.3"/>
<circle cx="522.86" cy="442.94" r="1.3"/>
<circle cx="522.86" cy="439.63" r="1.3"/>
<circle cx="525.38" cy="434.68" r="1.3"/>
<circle cx="525.38" cy="428.08" r="1.3"/>
<circle cx="527.9" cy="442.94" r="1.3"/>
<circle cx="530.42" cy="444.59" r="1.3"/>
<circle cx="532.94" cy="515.59" r="1.3"/>
<circle cx="532.94" cy="456.15" r="1.3"/>
<circle cx="532.94" cy="439.63" r="1.3"/>
<circle cx="535.46" cy="437.98" r="1.3"/>
<circle cx="537.98" cy="436.33" r="1.3"/>
<circle cx="540.5" cy="504.03" r="1.3"/>
<circle cx="540.5" cy="457.8" r="1.3"/>
<circle cx="540.5" cy="451.19" r="1.3"/>
<circle cx="540.5" cy="428.08" r="1.3"/>
<circle cx="543.02" cy="436.33" r="1.3"/>
<circle cx="543.02" cy="429.73" r="1.3"/>
<circle cx="548.06" cy="429.73" r="1.3"/>
<circle cx="550.58" cy="510.64" r="1.3"/>
<circle cx="550.58" cy="424.77" r="1.3"/>
<circle cx="555.62" cy="451.19" r="1.3"/>
<circle cx="573.26" cy="462.75" r="1.3"/>
<circle cx="578.3" cy="475.96" r="1.3"/>
<circle cx="578.3" cy="442.94" r="1.3"/>
<circle cx="590.9" cy="484.22" r="1.3"/>
<circle cx="593.42" cy="396.7" r="1.3"/>
<rect x="442.0" y="392.8" width="156.5" height="140.59999999999997" fill="none" stroke="#8a8a8a" stroke-width="1"/>
<line x1="452.50" y1="533.4" x2="452.50" y2="536.4" stroke="#7c7c7c" stroke-width="1"/>
<text x="452.30" y="544.0" font-size="5.8" text-anchor="middle" fill="#000">0.15</text>
<line x1="477.50" y1="533.4" x2="477.50" y2="536.4" stroke="#7c7c7c" stroke-width="1"/>
<text x="477.50" y="544.0" font-size="5.8" text-anchor="middle" fill="#000">0.20</text>
<line x1="502.50" y1="533.4" x2="502.50" y2="536.4" stroke="#7c7c7c" stroke-width="1"/>
<text x="502.70" y="544.0" font-size="5.8" text-anchor="middle" fill="#000">0.25</text>
<line x1="527.50" y1="533.4" x2="527.50" y2="536.4" stroke="#7c7c7c" stroke-width="1"/>
<text x="527.90" y="544.0" font-size="5.8" text-anchor="middle" fill="#000">0.30</text>
<line x1="553.50" y1="533.4" x2="553.50" y2="536.4" stroke="#7c7c7c" stroke-width="1"/>
<text x="553.10" y="544.0" font-size="5.8" text-anchor="middle" fill="#000">0.35</text>
<line x1="578.50" y1="533.4" x2="578.50" y2="536.4" stroke="#7c7c7c" stroke-width="1"/>
<text x="578.30" y="544.0" font-size="5.8" text-anchor="middle" fill="#000">0.40</text>
<line x1="439.0" y1="525.50" x2="442.0" y2="525.50" stroke="#7c7c7c" stroke-width="1"/>
<text transform="translate(435.50,525.50) rotate(-90)" font-size="5.8" text-anchor="middle" fill="#000">0.0</text>
<line x1="439.0" y1="492.50" x2="442.0" y2="492.50" stroke="#7c7c7c" stroke-width="1"/>
<text transform="translate(435.50,492.48) rotate(-90)" font-size="5.8" text-anchor="middle" fill="#000">0.2</text>
<line x1="439.0" y1="459.50" x2="442.0" y2="459.50" stroke="#7c7c7c" stroke-width="1"/>
<text transform="translate(435.50,459.45) rotate(-90)" font-size="5.8" text-anchor="middle" fill="#000">0.4</text>
<line x1="439.0" y1="426.50" x2="442.0" y2="426.50" stroke="#7c7c7c" stroke-width="1"/>
<text transform="translate(435.50,426.43) rotate(-90)" font-size="5.8" text-anchor="middle" fill="#000">0.6</text>
<line x1="439.0" y1="393.50" x2="442.0" y2="393.50" stroke="#7c7c7c" stroke-width="1"/>
<text transform="translate(435.50,393.40) rotate(-90)" font-size="5.8" text-anchor="middle" fill="#000">0.8</text>
<text x="480.2" y="562.5" font-size="7" fill="#000">Mean of A260/A230</text>
<text transform="translate(420.90,518.70) rotate(-90)" font-size="7" fill="#000">Differences between DN131-H<tspan font-size="5" dy="1.2">2</tspan><tspan dy="-1.2">O</tspan></text>
</svg></body></html>
